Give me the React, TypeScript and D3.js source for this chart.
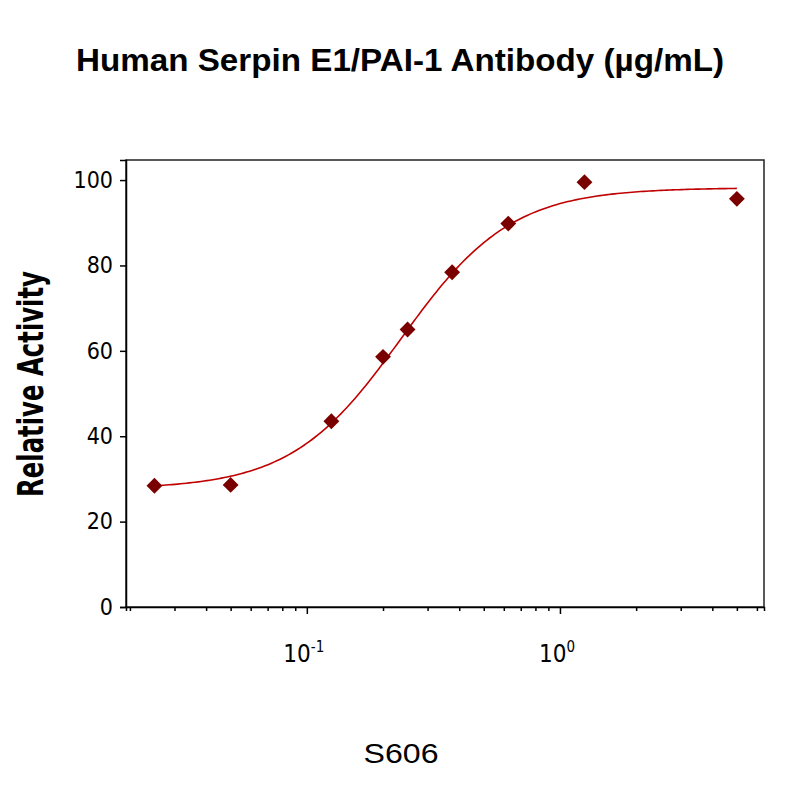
import * as d3 from "d3";
import { useEffect, useRef } from "react";

// concentration (µg/mL) and relative activity
const concentrations = [0.025, 0.05, 0.125, 0.2, 0.25, 0.375, 0.625, 1.25, 5];
const activity = [28.4, 28.6, 43.5, 58.6, 65.0, 78.4, 89.8, 99.5, 95.6];

// 4-parameter logistic fit shown as the curve
const fitBottom = 27.6;
const fitTop = 98.2;
const fitEC50 = 0.236;
const fitHill = 2.0;

const yTicks = [0, 20, 40, 60, 80, 100];
const xMajorTicks = [0.1, 1];
const xMajorLabels = ["-1", "0"];

const title = "Human Serpin E1/PAI-1 Antibody (µg/mL)";
const yLabel = "Relative Activity";
const xLabel = "S606";

const narrow = "'DejaVu Sans Condensed', 'Liberation Sans Narrow', sans-serif";

export default function App() {
    const svgRef = useRef<SVGSVGElement>(null);

    useEffect(() => {
        if (svgRef.current) drawChart();
    }, [svgRef]);

    const drawChart = () => {
        const svg = d3.select(svgRef.current);
        svg.selectAll("*").remove();

        const left = 126;
        const right = 764;
        const top = 160;
        const bottom = 607;

        const x = d3.scaleLog().domain([0.0193, 6.4]).range([left, right]);
        const y = d3.scaleLinear().domain([0, 104.7]).range([bottom, top]);

        svg.append("rect").attr("width", 800).attr("height", 800).attr("fill", "#fff");

        // title
        svg.append("text")
            .attr("x", 400)
            .attr("y", 71)
            .attr("text-anchor", "middle")
            .attr("font-family", "'Liberation Sans', Arial, sans-serif")
            .attr("font-weight", "bold")
            .attr("font-size", 31)
            .attr("textLength", 648)
            .attr("lengthAdjust", "spacingAndGlyphs")
            .text(title);

        // frame
        svg.append("rect")
            .attr("x", left)
            .attr("y", top)
            .attr("width", right - left)
            .attr("height", bottom - top)
            .attr("fill", "none")
            .attr("stroke", "#222")
            .attr("stroke-width", 1.5);

        // y axis
        const yAxis = svg.append("g").attr("transform", `translate(${left},0)`).call(
            d3.axisLeft(y).tickValues(yTicks).tickSize(6).tickPadding(7).tickFormat((d) => `${d}`)
        );
        yAxis.select(".domain").attr("stroke", "#000").attr("stroke-width", 1.5);
        yAxis.selectAll(".tick line").attr("stroke", "#000").attr("stroke-width", 1.5);
        yAxis.selectAll(".tick text")
            .attr("font-family", narrow)
            .attr("font-size", 23)
            .attr("fill", "#000");

        // x axis: minor ticks every unit within each decade
        const minorTicks: number[] = [];
        [0.01, 0.1, 1].forEach((dec) => {
            for (let k = 2; k <= 9; k++) {
                const v = dec * k;
                if (v >= 0.02 && v <= 6) minorTicks.push(v);
            }
        });
        const xAxisMinor = svg.append("g").attr("transform", `translate(0,${bottom})`).call(
            d3.axisBottom(x).tickValues(minorTicks).tickSize(4).tickFormat(() => "")
        );
        xAxisMinor.select(".domain").attr("stroke", "#000").attr("stroke-width", 1.5);
        xAxisMinor.selectAll(".tick line").attr("stroke", "#000").attr("stroke-width", 1.5);

        const xAxisMajor = svg.append("g").attr("transform", `translate(0,${bottom})`).call(
            d3.axisBottom(x).tickValues(xMajorTicks).tickSize(7).tickFormat(() => "")
        );
        xAxisMajor.select(".domain").remove();
        xAxisMajor.selectAll(".tick line").attr("stroke", "#000").attr("stroke-width", 1.5);

        // x tick labels as 10^n
        xMajorTicks.forEach((v, i) => {
            const t = svg.append("text")
                .attr("x", x(v) - 3)
                .attr("y", 662)
                .attr("text-anchor", "middle")
                .attr("font-family", narrow)
                .attr("font-size", 24)
                .attr("fill", "#000");
            t.append("tspan").text("10");
            t.append("tspan").attr("dy", -10).attr("font-size", 15).text(xMajorLabels[i]);
        });

        // fitted curve
        const logMin = Math.log10(concentrations[0]);
        const logMax = Math.log10(concentrations[concentrations.length - 1]);
        const curve = d3.range(0, 201).map((i) => {
            const c = Math.pow(10, logMin + ((logMax - logMin) * i) / 200);
            const v = fitBottom + (fitTop - fitBottom) / (1 + Math.pow(fitEC50 / c, fitHill));
            return [c, v] as [number, number];
        });
        svg.append("path")
            .datum(curve)
            .attr("fill", "none")
            .attr("stroke", "#c00000")
            .attr("stroke-width", 1.6)
            .attr("d", d3.line<[number, number]>().x((d) => x(d[0])).y((d) => y(d[1])));

        // data points
        svg.append("g")
            .selectAll("path")
            .data(concentrations)
            .join("path")
            .attr("transform", (d, i) => `translate(${x(d)},${y(activity[i])})`)
            .attr("d", d3.symbol(d3.symbolDiamond2, 160)())
            .attr("fill", "#7a0000");

        // y label
        svg.append("text")
            .attr("transform", "translate(43,384) rotate(-90)")
            .attr("text-anchor", "middle")
            .attr("font-family", narrow)
            .attr("font-weight", "bold")
            .attr("font-size", 35)
            .attr("textLength", 226)
            .attr("lengthAdjust", "spacingAndGlyphs")
            .text(yLabel);

        // x label
        svg.append("text")
            .attr("x", 401)
            .attr("y", 763)
            .attr("text-anchor", "middle")
            .attr("font-family", "'Liberation Sans', Arial, sans-serif")
            .attr("font-size", 28)
            .attr("textLength", 75)
            .attr("lengthAdjust", "spacingAndGlyphs")
            .text(xLabel);
    };

    return <svg ref={svgRef} width={800} height={800} style={{ position: "absolute", left: 0, top: 0 }} />;
}
